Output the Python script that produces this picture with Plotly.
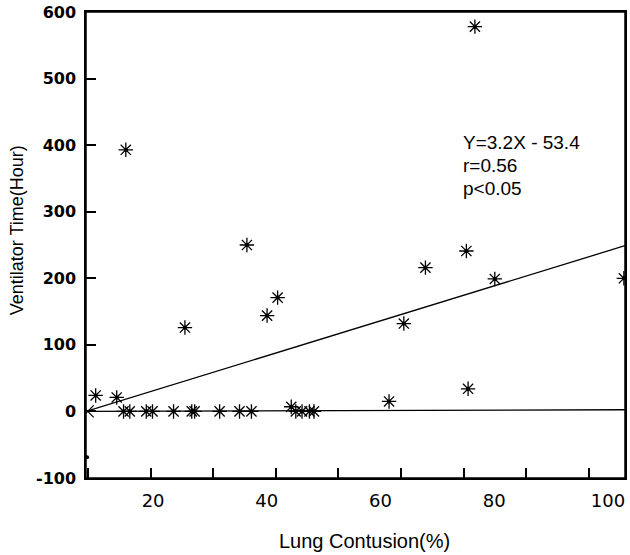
import plotly.graph_objects as go

# ---- data ----
x_label_vals = [20, 40, 60, 80, 100]
y_tick_vals = [-100, 0, 100, 200, 300, 400, 500, 600]
y_tick_text = ["-100", "0", "100", "200", "300", "400", "500", "600"]
x_minor_tick0 = 19.6
x_minor_dtick = 11.0

contusion = [9.9, 13.6, 14.8, 15.9, 18.8, 19.9, 23.6, 26.8, 27.3, 31.7, 35.2,
             37.3, 44.3, 45.1, 46.2, 47.5, 48.3, 15.2, 25.6, 36.5, 40.05, 41.9,
             61.5, 64.1, 67.9, 75.1, 75.4, 76.6, 80.1, 102.8]
vent_hours = [24, 21, 0, 0, 0, 0, 0, 0, 0, 0, 0, 0, 7, 0, 0, 0, 0, 393, 126,
              250, 144, 171, 15, 132, 216, 241, 34, 578, 199, 200]

origin_x = [8.5]
origin_y = [0]
dot_x = [8.4]
dot_y = [-69]

fit_x = [8.2, 103.0]
fit_y = [0, 249]
flat_x = [8.2, 103.0]
flat_y = [0, 2.5]

x_range = [8.2, 103.0]
y_range = [-100, 600]

stats_lines = ["Y=3.2X - 53.4", "r=0.56", "p<0.05"]

FONT = "Liberation Sans, Arial, sans-serif"
TICKFONT = "DejaVu Sans, sans-serif"

# plot area in pixels
L, R, T, B = 86, 627, 12, 478
W_PX, H_PX = R - L, B - T


def px_x(p):
    return (p - L) / W_PX


def px_y(p):
    return (B - p) / H_PX


fig = go.Figure()
fig.add_trace(go.Scatter(x=fit_x, y=fit_y, mode="lines", xaxis="x2", yaxis="y",
                         line=dict(color="black", width=1.3), hoverinfo="skip"))
fig.add_trace(go.Scatter(x=flat_x, y=flat_y, mode="lines", xaxis="x2", yaxis="y",
                         line=dict(color="black", width=1.3), hoverinfo="skip"))
fig.add_trace(go.Scatter(x=contusion, y=vent_hours, mode="markers",
                         marker=dict(symbol="asterisk-open", size=12, color="black",
                                     line=dict(color="black", width=1.3))))
fig.add_trace(go.Scatter(x=contusion, y=vent_hours, mode="markers",
                         marker=dict(symbol="circle", size=4, color="black")))
fig.add_trace(go.Scatter(x=origin_x, y=origin_y, mode="markers",
                         marker=dict(symbol="x-thin-open", size=12, color="black",
                                     line=dict(color="black", width=1.2))))
fig.add_trace(go.Scatter(x=dot_x, y=dot_y, mode="markers",
                         marker=dict(symbol="circle", size=4, color="black")))

annotations = [
    dict(text="Ventilator Time(Hour)", xref="paper", yref="paper",
         x=px_x(17), y=px_y(230), textangle=-90,
         showarrow=False, xanchor="center", yanchor="middle",
         font=dict(size=18, family=FONT)),
    dict(text="Lung Contusion(%)", xref="paper", yref="paper",
         x=px_x(365.5), y=px_y(541),
         showarrow=False, xanchor="center", yanchor="middle",
         font=dict(size=20, family=FONT)),
]
for txt, yc in zip(stats_lines, [142.7, 165.7, 188.5]):
    annotations.append(dict(text=txt, xref="paper", yref="paper",
                            x=px_x(462), y=px_y(yc), showarrow=False,
                            xanchor="left", yanchor="middle",
                            font=dict(size=19, family=FONT)))

fig.update_layout(
    width=630, height=555,
    margin=dict(l=L, r=630 - R, t=T, b=555 - B),
    paper_bgcolor="white", plot_bgcolor="white",
    showlegend=False,
    font=dict(family=FONT, color="black"),
    xaxis=dict(range=x_range, tickvals=x_label_vals, ticks="",
               showgrid=False, zeroline=False, showline=True, mirror=True,
               linecolor="black", linewidth=1.5,
               tickfont=dict(size=18, family=TICKFONT), ticklabelstandoff=6),
    xaxis2=dict(range=x_range, overlaying="x", anchor="y", side="bottom",
                tickmode="linear", tick0=x_minor_tick0, dtick=x_minor_dtick,
                ticks="inside", ticklen=10, tickwidth=1.6, tickcolor="black",
                showticklabels=False, showgrid=False, zeroline=False,
                showline=False),
    yaxis=dict(range=y_range, tickvals=y_tick_vals, ticktext=y_tick_text,
               ticks="inside",
               ticklen=10, tickwidth=1.6, tickcolor="black",
               showgrid=False, zeroline=False, showline=True, mirror=True,
               linecolor="black", linewidth=1.5,
               tickfont=dict(size=16, family=TICKFONT, weight="bold"),
               ticklabelstandoff=5),
    shapes=[dict(type="rect", xref="paper", yref="paper", x0=0, x1=1, y0=0, y1=1,
                 line=dict(color="black", width=1.5), layer="above")],
    annotations=annotations,
)

fig.write_html("out.html", config={"displayModeBar": False},
               post_script="document.body.style.margin='0';")
